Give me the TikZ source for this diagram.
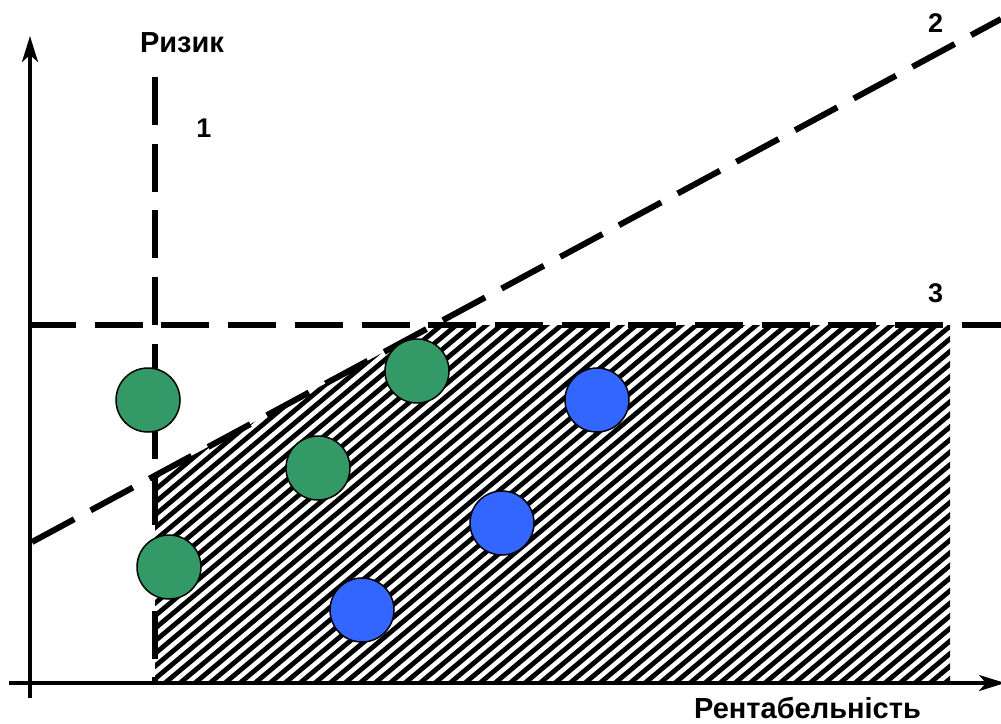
\documentclass[tikz,border=0pt]{standalone}
\usepackage{fontspec}
\setmainfont{Liberation Sans}
\usetikzlibrary{arrows.meta}
\definecolor{dotgreen}{HTML}{339966}
\definecolor{dotblue}{HTML}{3366FF}
\begin{document}
\begin{tikzpicture}[x=1pt,y=-1pt,
  axisline/.style={line width=3.5pt,-{Stealth[length=26pt,width=16pt,inset=7pt]}},
  dashline/.style={line width=6pt,dash pattern=on 48pt off 18.7pt},
  hatchline/.style={line width=4.8pt},
  dot/.style={circle,draw=black,line width=1.5pt,minimum size=64pt,inner sep=0pt},
  gdot/.style={dot,fill=dotgreen},
  bdot/.style={dot,fill=dotblue},
  lbl/.style={font=\bfseries\fontsize{29}{31}\selectfont,anchor=base},
  num/.style={font=\bfseries\fontsize{27}{29}\selectfont,anchor=base}]
\useasboundingbox (0,0) rectangle (1001,723);
% hatched region
\begin{scope}
\clip (155,683) -- (155,475.6) -- (434,325) -- (950,325) -- (950,683) -- cycle;
\foreach \c in {-285,-270,...,950} \draw[hatchline] (\c,683) -- ++(430,-361);
\end{scope}
% coordinates
\coordinate (yb) at (30,698);
\coordinate (yt) at (30,36);
\coordinate (xl) at (9,683);
\coordinate (xr) at (1005,683);
\coordinate (l1a) at (155,77);
\coordinate (l1b) at (155,683);
\coordinate (l2a) at (32,542);
\coordinate (l2b) at (1001,19);
\coordinate (l3a) at (28,325);
\coordinate (l3b) at (1001,325);
% axes
\draw[axisline] (yb) -- (yt);
\draw[axisline] (xl) -- (xr);
% dashed lines
\draw[dashline] (l1a) -- (l1b);
\draw[dashline] (l2a) -- (l2b);
\draw[dashline] (l3a) -- (l3b);
% points
\node[gdot] (g1) at (148,400) {};
\node[gdot] (g2) at (318,468) {};
\node[gdot] (g3) at (417,371) {};
\node[gdot] (g4) at (169,567) {};
\node[bdot] (b1) at (362,610) {};
\node[bdot] (b2) at (502,523) {};
\node[bdot] (b3) at (597,400) {};
% labels
\node[lbl] (risk) at (182,52) {Ризик};
\node[lbl] (prof) at (807.5,718) {Рентабельність};
\node[num] (n1) at (204,137) {1};
\node[num] (n2) at (935.5,32) {2};
\node[num] (n3) at (935.5,302) {3};
\end{tikzpicture}
\end{document}
